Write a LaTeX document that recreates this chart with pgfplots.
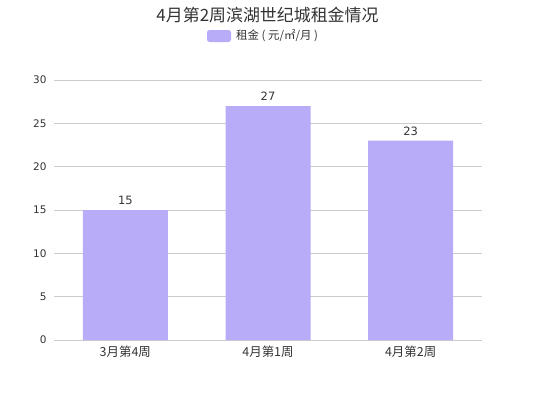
\documentclass[border=0pt]{standalone}
\usepackage{pgfplots}
\pgfplotsset{compat=1.18}
\usepackage{fontspec}
\setmainfont{Noto Sans CJK SC}
\newfontfamily\numfont{DejaVu Sans}
\definecolor{barcol}{HTML}{B8ABF7}
\definecolor{txt}{HTML}{333333}
\definecolor{gridc}{HTML}{CCCCCC}
\begin{document}
\begin{tikzpicture}[x=1bp,y=1bp]
\useasboundingbox (0,0) rectangle (535,400);
% title and legend
\node[text=txt,font=\fontsize{17}{20}\selectfont] at (267.5,385) {4月第2周滨湖世纪城租金情况};
\fill[barcol,rounded corners=2.5bp] (207,358) rectangle (231,370);
\node[anchor=west,text=txt,font=\fontsize{11.5}{13}\selectfont,inner sep=0pt] at (236,364) {租金 ( 元/㎡/月 )};
\begin{axis}[
  at={(54bp,60bp)}, anchor=south west,
  scale only axis, width=428bp, height=260bp,
  xmin=-0.5, xmax=2.5, ymin=0, ymax=30,
  xtick={0,1,2}, xticklabels={3月第4周,4月第1周,4月第2周},
  ytick={0,5,10,15,20,25,30},
  ymajorgrids, grid style={gridc,line width=0.8pt},
  axis line style={draw=none},
  axis x line*=bottom,
  x axis line style={gridc,line width=0.8pt,draw=gridc},
  major tick length=0pt,
  tick label style={text=txt,font=\numfont\fontsize{10.5}{12}\selectfont},
  xticklabel style={font=\fontsize{12.5}{14}\selectfont,yshift=-2bp},
  yticklabel style={xshift=-4bp},
  /pgf/number format/assume math mode=true,
  ybar, bar width=85bp,
  nodes near coords,
  nodes near coords style={text=txt,font=\numfont\fontsize{11.5}{13}\selectfont,yshift=1.5bp},
  clip=false,
]
\addplot[fill=barcol,draw=none] coordinates {(0,15) (1,27) (2,23)};
\end{axis}
\end{tikzpicture}
\end{document}
